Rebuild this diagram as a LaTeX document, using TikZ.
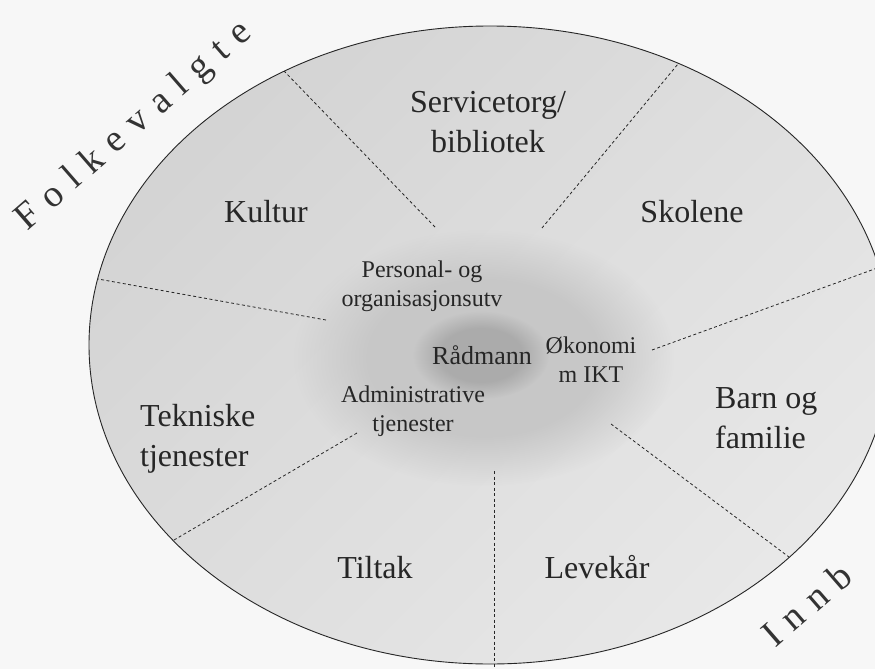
\documentclass[tikz,border=0pt]{standalone}
\usepackage{fontspec}
\setmainfont{Liberation Serif}
\usetikzlibrary{fadings}
% soft-edged disc: opaque core, fading out towards the rim
\pgfdeclareradialshading{softdisc}{\pgfpointorigin}{%
  color(0bp)=(pgftransparent!0); color(15bp)=(pgftransparent!0);
  color(25bp)=(pgftransparent!100); color(50bp)=(pgftransparent!100)}
\pgfdeclarefading{softdisc}{\pgfuseshading{softdisc}}
\newcommand\lsp{\hspace{12pt}}

\begin{document}
\begin{tikzpicture}[x=1pt,y=-1pt,
  divider/.style={draw=black!85, line width=0.8pt, dash pattern=on 3pt off 2.5pt},
  unit/.style={font=\fontsize{32}{40}\selectfont, inner sep=0pt, text=black!85},
  staff/.style={font=\fontsize{24}{29}\selectfont, inner sep=0pt, align=center, text=black!85},
  arcword/.style={font=\fontsize{38}{40}\selectfont, inner sep=0pt, rotate=41,
    anchor=base west, text=black!80}]
\useasboundingbox (0,0) rectangle (875,669);
\clip (0,0) rectangle (875,669);
\fill[black!3] (0,0) rectangle (875,669);

% outer ring of units
\shade[top color=black!17, bottom color=black!9, shading angle=45]
  (490,345) ellipse [x radius=401, y radius=319];
\draw[black!85, line width=0.9pt] (490,345) ellipse [x radius=401, y radius=319];

% staff zone and the chief executive
\fill[black!22, path fading=softdisc] (484,358) ellipse [x radius=190, y radius=128];
\fill[black!33, path fading=softdisc] (481,355) ellipse [x radius=68, y radius=44];

% sector dividers
\coordinate (i1) at (435,227); \coordinate (o1) at (284,71);
\coordinate (i2) at (542,228); \coordinate (o2) at (678,64);
\coordinate (i3) at (652,350); \coordinate (o3) at (880,267);
\coordinate (i4) at (611,424); \coordinate (o4) at (789,557);
\coordinate (i5) at (494,471); \coordinate (o5) at (494,667);
\coordinate (i6) at (357,433); \coordinate (o6) at (174,540);
\coordinate (i7) at (326,320); \coordinate (o7) at (98,279);
\foreach \k in {1,...,7} \draw[divider] (i\k) -- (o\k);

% units (base anchor of a two-line node sits on its last line)
\node[unit, anchor=base] (kultur) at (266,222) {Kultur};
\node[unit, anchor=base] (skolene) at (692,222) {Skolene};
\node[unit, anchor=base] (tiltak) at (375,578) {Tiltak};
\node[unit, anchor=base] (levekar) at (597,578) {Levekår};
\node[unit, align=center, anchor=base] (service) at (488,152) {Servicetorg/\\bibliotek};
\node[unit, align=left, anchor=base west] (barn) at (715,448) {Barn og\\familie};
\node[unit, align=left, anchor=base west] (teknisk) at (140,466) {Tekniske\\tjenester};

% staff
\node[staff, anchor=base] (personal) at (422,306) {Personal- og\\organisasjonsutv};
\node[staff, anchor=base] (admin) at (413,431) {Administrative\\tjenester};
\node[staff, anchor=base] (okonomi) at (591,382) {Økonomi\\m IKT};
\node[font=\fontsize{26}{30}\selectfont, inner sep=0pt, anchor=base, text=black!85]
  (radmann) at (482,364) {Rådmann};

% outer words
\node[arcword] (folk) at (27,232) {F\lsp o\lsp l\lsp k\lsp e\lsp v\lsp a\lsp l\lsp g\lsp t\lsp e};
\node[arcword] (innb) at (775,649) {I\lsp n\lsp n\lsp b};
\end{tikzpicture}
\end{document}
